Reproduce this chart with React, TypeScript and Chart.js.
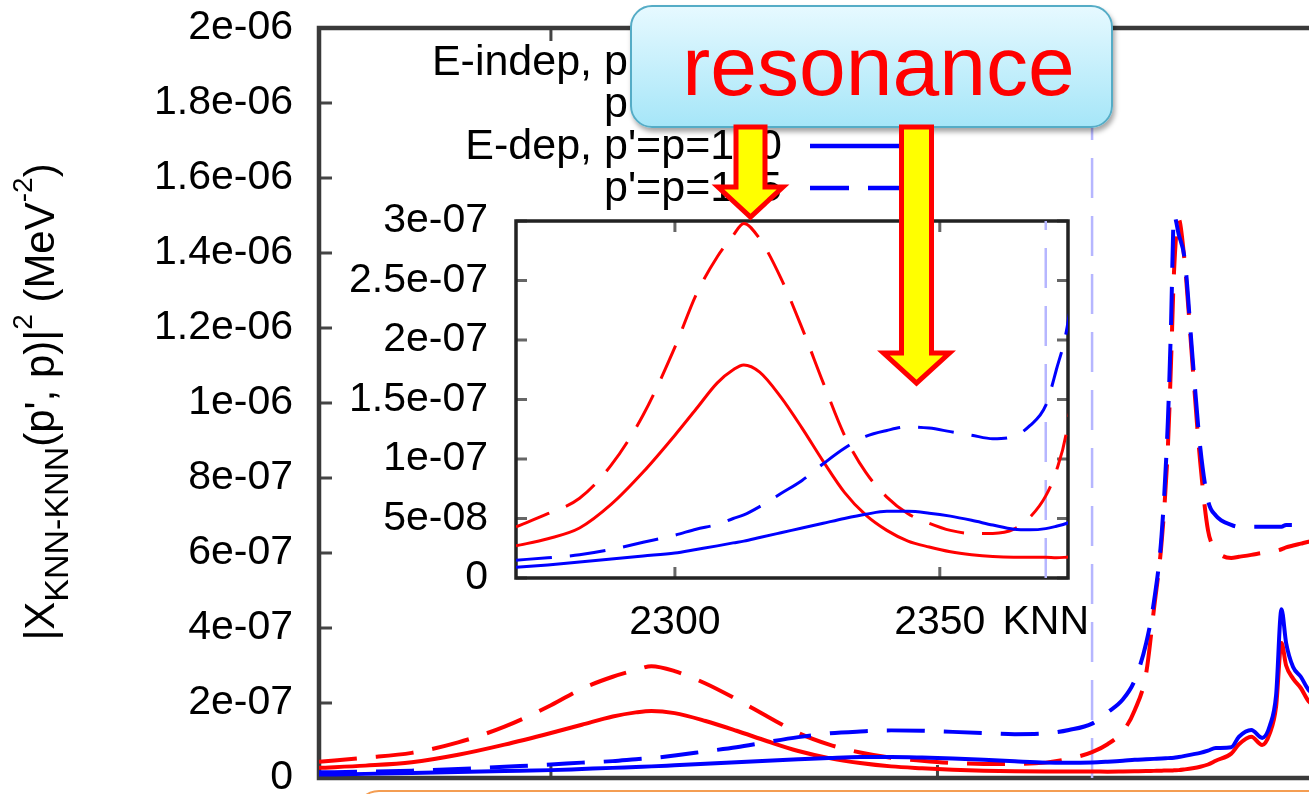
import React, { useEffect, useRef } from 'react';
import { Chart, registerables } from 'chart.js';

Chart.register(...registerables);

// ---------- data ----------
const energies = [2270, 2276, 2282, 2288, 2294, 2300, 2304, 2308, 2311, 2313, 2316, 2320, 2324, 2328, 2332, 2336, 2340, 2344, 2348, 2352, 2356, 2360, 2364, 2367, 2370, 2372, 2374, 2375.5, 2377, 2378, 2379, 2379.8, 2380.2, 2380.6, 2381.2, 2382, 2383, 2384, 2385, 2386, 2388, 2389, 2390.6, 2392, 2393, 2393.8, 2394.5, 2395.1, 2396, 2397, 2398, 2400];

// E-indep, p'=p=100 (red solid)
const eIndep100 = [2.7e-8, 3.3e-8, 4.2e-8, 6.2e-8, 8.9e-8, 12.0e-8, 14.2e-8, 16.4e-8, 17.5e-8, 17.9e-8, 17.3e-8, 15.2e-8, 12.6e-8, 9.8e-8, 7.2e-8, 5.3e-8, 4.0e-8, 3.1e-8, 2.6e-8, 2.2e-8, 1.95e-8, 1.8e-8, 1.75e-8, 1.75e-8, 1.75e-8, 1.7e-8, 1.75e-8, 1.8e-8, 1.85e-8, 1.9e-8, 1.95e-8, 2.0e-8, 2.0e-8, 2.05e-8, 2.1e-8, 2.3e-8, 2.6e-8, 3.0e-8, 3.6e-8, 4.6e-8, 6.5e-8, 9.0e-8, 11.0e-8, 8.8e-8, 12.0e-8, 19.0e-8, 36.0e-8, 30.0e-8, 26.5e-8, 24.0e-8, 20.5e-8, 17.5e-8];
// E-indep, second momentum (red dashed)
const eIndep150 = [4.3e-8, 5.4e-8, 6.7e-8, 9.5e-8, 13.7e-8, 19.4e-8, 23.8e-8, 27.0e-8, 28.8e-8, 29.8e-8, 28.5e-8, 25.2e-8, 21.0e-8, 16.4e-8, 12.0e-8, 8.9e-8, 6.8e-8, 5.4e-8, 4.6e-8, 4.0e-8, 3.75e-8, 3.75e-8, 4.1e-8, 5.1e-8, 6.9e-8, 9.0e-8, 12.5e-8, 18.0e-8, 28.0e-8, 45.0e-8, 63.0e-8, 88.0e-8, 110.0e-8, 135.0e-8, 149.0e-8, 137.0e-8, 110.0e-8, 84.0e-8, 66.0e-8, 61.0e-8, 58.7e-8, 59.0e-8, 59.5e-8, 60.0e-8, 60.3e-8, 60.6e-8, 61.0e-8, 61.5e-8, 62.0e-8, 62.5e-8, 63.0e-8, 63.5e-8];
// E-dep, p'=p=100 (blue solid)
const eDep100 = [0.9e-8, 1.1e-8, 1.35e-8, 1.6e-8, 1.85e-8, 2.1e-8, 2.4e-8, 2.7e-8, 2.95e-8, 3.1e-8, 3.4e-8, 3.8e-8, 4.2e-8, 4.6e-8, 5.0e-8, 5.35e-8, 5.6e-8, 5.6e-8, 5.45e-8, 5.2e-8, 4.85e-8, 4.45e-8, 4.1e-8, 4.05e-8, 4.15e-8, 4.35e-8, 4.6e-8, 4.85e-8, 5.0e-8, 5.1e-8, 5.2e-8, 5.3e-8, 5.35e-8, 5.4e-8, 5.6e-8, 5.9e-8, 6.3e-8, 6.7e-8, 7.3e-8, 8.0e-8, 8.2e-8, 11.0e-8, 12.8e-8, 10.7e-8, 14.0e-8, 22.0e-8, 45.0e-8, 36.0e-8, 29.6e-8, 27.0e-8, 23.5e-8, 20.5e-8];
// E-dep, second momentum (blue dashed)
const eDep150 = [1.5e-8, 1.7e-8, 1.95e-8, 2.4e-8, 3.0e-8, 3.6e-8, 4.1e-8, 4.5e-8, 5.0e-8, 5.3e-8, 6.0e-8, 7.1e-8, 8.2e-8, 9.6e-8, 10.9e-8, 11.9e-8, 12.4e-8, 12.7e-8, 12.6e-8, 12.3e-8, 12.0e-8, 11.7e-8, 11.9e-8, 12.8e-8, 14.5e-8, 17.5e-8, 21.0e-8, 26.0e-8, 36.0e-8, 47.0e-8, 65.0e-8, 95.0e-8, 120.0e-8, 150.0e-8, 145.0e-8, 138.0e-8, 112.0e-8, 88.0e-8, 74.0e-8, 70.0e-8, 67.5e-8, 67.0e-8, 67.0e-8, 67.0e-8, 67.0e-8, 67.0e-8, 67.0e-8, 67.5e-8, 67.5e-8, 68.0e-8, 68.0e-8, 68.0e-8];

const thresholdE = 2370;

const mainXRange = [2270, 2400];
const mainXTicks = [2300, 2350, 2400];
const mainYTicks = [0, 2e-7, 4e-7, 6e-7, 8e-7, 1e-6, 1.2e-6, 1.4e-6, 1.6e-6, 1.8e-6, 2e-6];
const mainYLabels = ['0', '2e-07', '4e-07', '6e-07', '8e-07', '1e-06', '1.2e-06', '1.4e-06', '1.6e-06', '1.8e-06', '2e-06'];

const insetXRange = [2270, 2374.2];
const insetXTicks = [2300, 2350, 2370];
const insetXLabels = ['2300', '2350', 'KNN'];
const insetYTicks = [0, 5e-8, 1e-7, 1.5e-7, 2e-7, 2.5e-7, 3e-7];
const insetYLabels = ['0', '5e-08', '1e-07', '1.5e-07', '2e-07', '2.5e-07', '3e-07'];

const legendLabels = ["E-indep, p'=p=100", "p'=p=125", "E-dep, p'=p=100", "p'=p=125"];
const calloutText = 'resonance';

// ---------- styling ----------
const FONT = "'Liberation Sans', Arial, Helvetica, sans-serif";
const RED = '#ff0000';
const BLUE = '#0000ff';
const THRESH = '#b6b6ff';

const series = [
  { label: legendLabels[0], values: eIndep100, color: RED, dashed: false, order: 3 },
  { label: legendLabels[1], values: eIndep150, color: RED, dashed: true, order: 2 },
  { label: legendLabels[2], values: eDep100, color: BLUE, dashed: false, order: 1 },
  { label: legendLabels[3], values: eDep150, color: BLUE, dashed: true, order: 0 },
];

function buildDatasets(width: number, dash: number[], yTop: number) {
  const ds: any[] = series.map((s) => ({
    label: s.label,
    data: energies.map((e, i) => ({ x: e, y: s.values[i] })),
    borderColor: s.color,
    borderWidth: width,
    borderDash: s.dashed ? dash : [],
    pointRadius: 0,
    fill: false,
    cubicInterpolationMode: 'monotone',
    order: s.order,
  }));
  ds.push({
    label: 'threshold',
    data: [{ x: thresholdE, y: 0 }, { x: thresholdE, y: yTop }],
    borderColor: THRESH,
    borderWidth: 2.5,
    borderDash: [40, 18],
    pointRadius: 0,
    tension: 0,
    cubicInterpolationMode: 'default',
    order: 5,
  });
  return ds;
}

function framePlugin(id: string, xTicks: number[], yTicks: number[], tickLen: number, frameColor: string, frameWidth: number, tickColor: string) {
  return {
    id,
    beforeDatasetsDraw(chart: any) {
      const { ctx, chartArea: a, scales } = chart;
      ctx.save();
      ctx.strokeStyle = tickColor;
      ctx.lineWidth = 3;
      ctx.beginPath();
      yTicks.forEach((v) => {
        const py = scales.y.getPixelForValue(v);
        ctx.moveTo(a.left, py);
        ctx.lineTo(a.left + tickLen, py);
        ctx.moveTo(a.right, py);
        ctx.lineTo(a.right - tickLen, py);
      });
      xTicks.forEach((v) => {
        const px = scales.x.getPixelForValue(v);
        ctx.moveTo(px, a.bottom);
        ctx.lineTo(px, a.bottom - tickLen);
        ctx.moveTo(px, a.top);
        ctx.lineTo(px, a.top + tickLen);
      });
      ctx.stroke();
      ctx.strokeStyle = frameColor;
      ctx.lineWidth = frameWidth;
      ctx.strokeRect(a.left, a.top, a.right - a.left, a.bottom - a.top);
      ctx.restore();
    },
  };
}

const legendPlugin = {
  id: 'gnuLegend',
  afterDatasetsDraw(chart: any) {
    const { ctx } = chart;
    const baselines = [75, 117, 159, 201];
    ctx.save();
    ctx.font = `43px ${FONT}`;
    ctx.fillStyle = '#000';
    ctx.textAlign = 'right';
    ctx.textBaseline = 'alphabetic';
    series.forEach((s, i) => {
      const b = baselines[i];
      ctx.fillText(s.label, 782, b);
      ctx.strokeStyle = s.color;
      ctx.lineWidth = 4.5;
      ctx.setLineDash(s.dashed ? [39, 19] : []);
      ctx.beginPath();
      ctx.moveTo(810, b - 13);
      ctx.lineTo(900, b - 13);
      ctx.stroke();
    });
    ctx.restore();
  },
};

const yTitleParts = [
  { t: '|X', size: 42, dy: 0 },
  { t: 'KNN-KNN', size: 34, dy: 14 },
  { t: "(p', p)|", size: 42, dy: 0 },
  { t: '2', size: 28, dy: -22 },
  { t: ' (MeV', size: 42, dy: 0 },
  { t: '-2', size: 28, dy: -22 },
  { t: ')', size: 42, dy: 0 },
];

const yTitlePlugin = {
  id: 'yTitle',
  afterDraw(chart: any) {
    const { ctx } = chart;
    ctx.save();
    ctx.translate(54, 402);
    ctx.rotate(-Math.PI / 2);
    ctx.fillStyle = '#000';
    ctx.textAlign = 'left';
    ctx.textBaseline = 'alphabetic';
    let total = 0;
    yTitleParts.forEach((p) => {
      ctx.font = `${p.size}px ${FONT}`;
      total += ctx.measureText(p.t).width;
    });
    let x = -total / 2;
    yTitleParts.forEach((p) => {
      ctx.font = `${p.size}px ${FONT}`;
      ctx.fillText(p.t, x, p.dy);
      x += ctx.measureText(p.t).width;
    });
    ctx.restore();
  },
};

const tickFont = { family: FONT, size: 41 };

const noVPad = (w: number) => (s: any) => {
  s.width = w;
  s.paddingTop = 0;
  s.paddingBottom = 0;
};
const noHPad = (h: number) => (s: any) => {
  s.height = h;
  s.paddingLeft = 0;
  s.paddingRight = 0;
};

export default function App() {
  const mainRef = useRef<HTMLCanvasElement>(null);
  const insetRef = useRef<HTMLCanvasElement>(null);

  useEffect(() => {
    const main = new Chart(mainRef.current as HTMLCanvasElement, {
      type: 'line',
      data: { datasets: buildDatasets(4, [38, 19], mainYTicks[mainYTicks.length - 1]) },
      options: {
        responsive: false,
        animation: false,
        events: [],
        layout: { padding: { left: 0, top: 28, right: 6, bottom: 0 } },
        plugins: { legend: { display: false }, tooltip: { enabled: false } },
        scales: {
          x: {
            type: 'linear',
            min: mainXRange[0],
            max: mainXRange[1],
            grid: { display: false, drawTicks: false },
            border: { display: false },
            ticks: { display: false },
            afterFit: noHPad(82),
          },
          y: {
            type: 'linear',
            min: mainYTicks[0],
            max: mainYTicks[mainYTicks.length - 1],
            grid: { display: false, drawTicks: false },
            border: { display: false },
            afterBuildTicks: (s: any) => { s.ticks = mainYTicks.map((v) => ({ value: v })); },
            ticks: {
              callback: (_v: any, i: number) => mainYLabels[i],
              font: tickFont,
              color: '#000',
              padding: 26,
              autoSkip: false,
            },
            afterFit: noVPad(319),
          },
        },
      } as any,
      plugins: [
        framePlugin('mainFrame', mainXTicks, mainYTicks, 13, '#3a3a3a', 4.5, '#444'),
        legendPlugin,
        yTitlePlugin,
      ],
    });

    const inset = new Chart(insetRef.current as HTMLCanvasElement, {
      type: 'line',
      data: { datasets: buildDatasets(3, [36, 18], insetYTicks[insetYTicks.length - 1]) },
      options: {
        responsive: false,
        animation: false,
        events: [],
        layout: { padding: { left: 0, top: 221, right: 132, bottom: 0 } },
        plugins: { legend: { display: false }, tooltip: { enabled: false } },
        scales: {
          x: {
            type: 'linear',
            min: insetXRange[0],
            max: insetXRange[1],
            grid: { display: false, drawTicks: false },
            border: { display: false },
            afterBuildTicks: (s: any) => { s.ticks = insetXTicks.map((v) => ({ value: v })); },
            ticks: {
              callback: (_v: any, i: number) => insetXLabels[i],
              font: tickFont,
              color: '#000',
              padding: 20,
              autoSkip: false,
              maxRotation: 0,
              minRotation: 0,
            },
            afterFit: noHPad(142),
          },
          y: {
            type: 'linear',
            min: insetYTicks[0],
            max: insetYTicks[insetYTicks.length - 1],
            grid: { display: false, drawTicks: false },
            border: { display: false },
            afterBuildTicks: (s: any) => { s.ticks = insetYTicks.map((v) => ({ value: v })); },
            ticks: {
              callback: (_v: any, i: number) => insetYLabels[i],
              font: tickFont,
              color: '#000',
              padding: 28,
              autoSkip: false,
            },
            afterFit: noVPad(516),
          },
        },
      } as any,
      plugins: [framePlugin('insetFrame', [2300, 2350], insetYTicks, 11, '#222', 3.5, '#666')],
    });

    return () => {
      main.destroy();
      inset.destroy();
    };
  }, []);

  return (
    <div style={{ position: 'fixed', left: 0, top: 0, width: 1309, height: 794, overflow: 'hidden', background: '#fff' }}>
      <canvas ref={mainRef} width={1330} height={860} style={{ position: 'absolute', left: 0, top: 0, width: 1330, height: 860 }} />
      <canvas ref={insetRef} width={1200} height={720} style={{ position: 'absolute', left: 0, top: 0, width: 1200, height: 720 }} />
      <div
        style={{
          position: 'absolute', left: 355, top: 790, width: 1100, height: 100, boxSizing: 'border-box',
          border: '2.5px solid #f49d52', borderRadius: 24,
        }}
      />
      <div
        style={{
          position: 'absolute', left: 630, top: 5, width: 483, height: 123, boxSizing: 'border-box',
          border: '2px solid #55acc6', borderRadius: 22,
          background: 'linear-gradient(to bottom, #e6f9ff, #a6e6f8)',
          boxShadow: '2px 4px 5px rgba(0,0,0,0.35)',
          fontFamily: FONT, fontSize: 84, color: '#ff0000', textAlign: 'center',
          lineHeight: '119px', paddingLeft: 14,
        }}
      >
        {calloutText}
      </div>
      <svg width={1309} height={794} style={{ position: 'absolute', left: 0, top: 0 }}>
        <polygon points="736,127 765,127 765,187 783,187 750.5,217 718,187 736,187" fill="#ffff00" stroke="#ff0000" strokeWidth={5} />
        <polygon points="901.5,127 931.5,127 931.5,353 949.5,353 916.5,383 883.5,353 901.5,353" fill="#ffff00" stroke="#ff0000" strokeWidth={5} />
      </svg>
    </div>
  );
}
